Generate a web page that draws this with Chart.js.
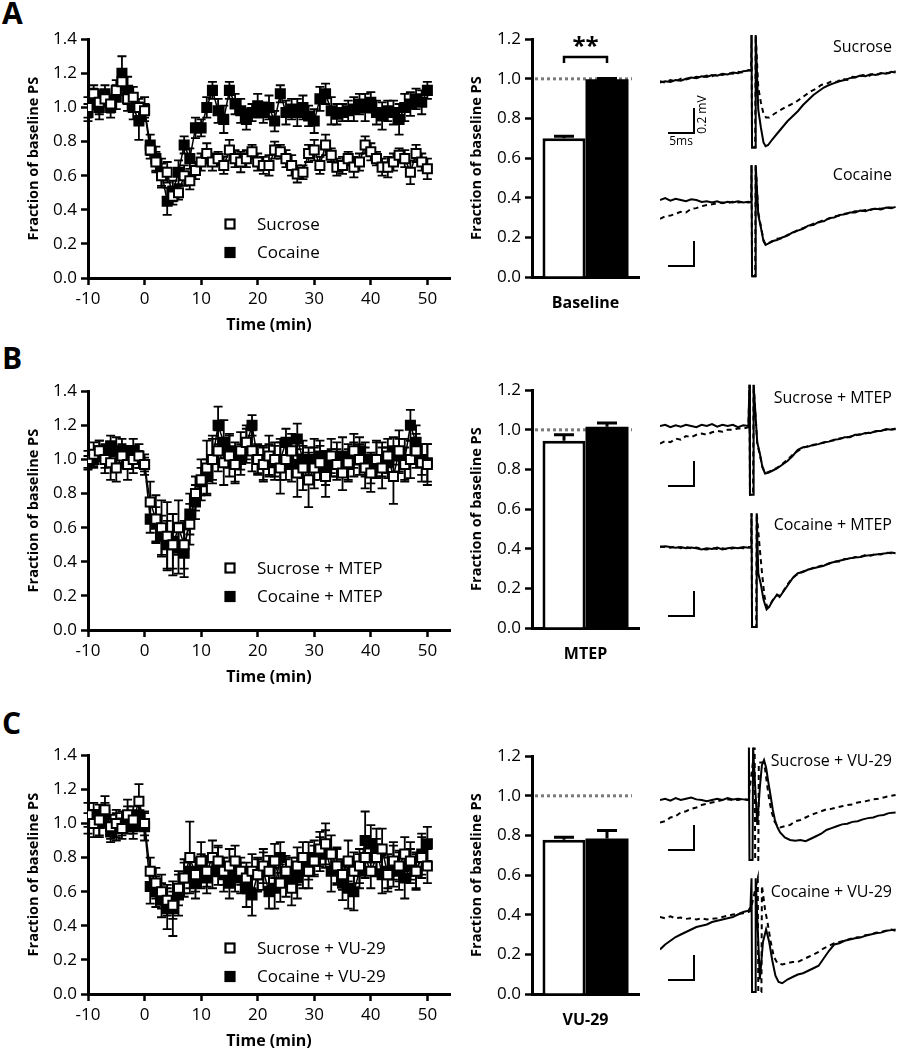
<!DOCTYPE html>
<html><head><meta charset="utf-8">
<script src="https://cdn.jsdelivr.net/npm/chart.js@4.4.0/dist/chart.umd.min.js"></script>
<style>
html,body{margin:0;padding:0;background:#fff;width:897px;height:1050px;overflow:hidden;position:relative}
.box{position:absolute}
.letter{position:absolute;font:bold 30px "Open Sans",sans-serif;color:#000;line-height:30px}
</style></head><body>
<div class="letter" style="left:2px;top:-2px">A</div>
<div class="letter" style="left:2px;top:343px">B</div>
<div class="letter" style="left:2px;top:708px">C</div>

<div class="box" style="left:0;top:25px"><canvas id="lA" width="460" height="320"></canvas></div>
<div class="box" style="left:0;top:377px"><canvas id="lB" width="460" height="320"></canvas></div>
<div class="box" style="left:0;top:741px"><canvas id="lC" width="460" height="320"></canvas></div>

<div class="box" style="left:462px;top:25px"><canvas id="bA" width="190" height="320"></canvas></div>
<div class="box" style="left:462px;top:376px"><canvas id="bB" width="190" height="320"></canvas></div>
<div class="box" style="left:462px;top:742px"><canvas id="bC" width="190" height="320"></canvas></div>

<div class="box" style="left:660px;top:20px"><canvas id="tA1" width="236" height="150"></canvas></div>
<div class="box" style="left:660px;top:140px"><canvas id="tA2" width="236" height="150"></canvas></div>
<div class="box" style="left:660px;top:366px"><canvas id="tB1" width="236" height="150"></canvas></div>
<div class="box" style="left:660px;top:487px"><canvas id="tB2" width="236" height="150"></canvas></div>
<div class="box" style="left:660px;top:740px"><canvas id="tC1" width="236" height="150"></canvas></div>
<div class="box" style="left:660px;top:857px"><canvas id="tC2" width="236" height="150"></canvas></div>

<script>
// ---------------- DATA ----------------
const time = [-10,-9,-8,-7,-6,-5,-4,-3,-2,-1,0,
  1,2,3,4,5,6,7,8,9,10, 11,12,13,14,15,16,17,18,19,20,
  21,22,23,24,25,26,27,28,29,30, 31,32,33,34,35,36,37,38,39,40,
  41,42,43,44,45,46,47,48,49,50];

const seriesLabelsA = ['Sucrose','Cocaine'];
const seriesLabelsB = ['Sucrose + MTEP','Cocaine + MTEP'];
const seriesLabelsC = ['Sucrose + VU-29','Cocaine + VU-29'];

const sucroseA = [1.00,1.08,1.03,1.05,1.02,1.10,1.15,1.05,1.06,1.00,0.98,
  0.75,0.68,0.60,0.62,0.48,0.50,0.60,0.57,0.63,0.68,
  0.73,0.68,0.70,0.66,0.75,0.70,0.68,0.70,0.74,0.68,
  0.66,0.66,0.75,0.74,0.70,0.66,0.61,0.62,0.73,0.75,
  0.66,0.78,0.72,0.65,0.66,0.70,0.65,0.68,0.78,0.74,
  0.70,0.65,0.65,0.68,0.72,0.70,0.62,0.73,0.68,0.64];
const sucroseAErr = [0.06,0.05,0.07,0.04,0.05,0.06,0.05,0.07,0.06,0.05,0.04,
  0.05,0.06,0.07,0.06,0.05,0.04,0.06,0.05,0.05,0.05,
  0.06,0.05,0.04,0.05,0.06,0.05,0.06,0.05,0.04,0.05,
  0.05,0.06,0.05,0.04,0.05,0.06,0.05,0.04,0.05,0.06,
  0.05,0.06,0.04,0.05,0.05,0.04,0.06,0.05,0.05,0.05,
  0.04,0.05,0.06,0.05,0.04,0.05,0.07,0.05,0.05,0.06];
const cocaineA = [0.97,1.05,1.00,1.08,1.00,1.06,1.20,1.10,1.00,0.92,0.99,
  0.78,0.70,0.62,0.45,0.51,0.62,0.78,0.70,0.88,0.88,
  1.00,1.10,0.98,0.93,1.10,1.02,0.98,0.93,0.97,1.01,
  0.97,1.00,0.92,1.08,0.97,0.99,0.97,1.00,0.95,0.92,
  1.05,1.08,0.98,0.96,0.97,0.98,0.99,1.02,1.00,1.03,
  0.97,0.95,0.98,0.97,0.93,1.00,1.02,1.05,1.03,1.10];
const cocaineAErr = [0.05,0.06,0.07,0.05,0.06,0.07,0.10,0.08,0.07,0.11,0.07,
  0.06,0.07,0.08,0.08,0.06,0.07,0.05,0.06,0.06,0.05,
  0.06,0.05,0.07,0.08,0.05,0.06,0.07,0.06,0.05,0.07,
  0.06,0.07,0.06,0.05,0.07,0.06,0.08,0.07,0.06,0.07,
  0.07,0.06,0.08,0.06,0.05,0.06,0.07,0.06,0.08,0.06,
  0.07,0.08,0.06,0.07,0.09,0.08,0.07,0.06,0.07,0.05];

const sucroseB = [1.00,1.03,1.05,1.00,0.98,0.95,1.02,0.97,1.00,1.02,0.97,
  0.75,0.65,0.60,0.55,0.50,0.60,0.50,0.62,0.80,0.88,
  0.95,1.00,1.05,0.98,1.02,0.97,1.05,1.10,1.05,1.00,
  0.97,1.02,1.00,0.95,1.00,1.05,0.92,0.95,0.88,0.95,
  0.98,0.90,1.02,0.97,0.92,0.98,1.05,1.00,0.95,0.92,
  1.00,0.95,1.02,0.90,1.05,0.97,1.00,1.05,0.98,0.97];
const sucroseBErr = [0.05,0.07,0.06,0.08,0.10,0.08,0.07,0.09,0.08,0.07,0.06,
  0.12,0.14,0.16,0.20,0.18,0.16,0.14,0.12,0.10,0.12,
  0.16,0.14,0.12,0.13,0.12,0.10,0.11,0.10,0.12,0.09,
  0.10,0.12,0.10,0.15,0.12,0.10,0.14,0.13,0.16,0.12,
  0.10,0.12,0.10,0.09,0.10,0.11,0.10,0.09,0.12,0.11,
  0.10,0.12,0.10,0.16,0.12,0.10,0.11,0.10,0.11,0.12];
const cocaineB = [0.98,1.00,1.05,1.02,1.08,1.05,1.05,1.02,1.05,1.00,0.97,
  0.65,0.62,0.55,0.50,0.52,0.48,0.45,0.68,0.75,0.87,
  0.90,1.00,1.20,1.10,1.05,0.98,1.00,1.08,1.20,1.00,
  0.98,1.00,0.98,1.00,1.10,0.97,1.12,1.00,0.97,1.00,
  1.02,0.95,0.98,1.00,1.02,0.97,1.00,1.05,1.00,0.95,
  1.00,1.00,0.98,1.05,1.02,1.00,1.20,1.10,1.00,0.98];
const cocaineBErr = [0.04,0.05,0.06,0.07,0.06,0.08,0.07,0.06,0.07,0.05,0.04,
  0.08,0.10,0.12,0.14,0.16,0.15,0.14,0.12,0.10,0.08,
  0.10,0.12,0.11,0.13,0.10,0.12,0.09,0.10,0.06,0.08,
  0.10,0.09,0.10,0.12,0.08,0.10,0.09,0.11,0.10,0.12,
  0.09,0.10,0.08,0.10,0.11,0.09,0.10,0.08,0.10,0.09,
  0.11,0.10,0.09,0.08,0.10,0.12,0.09,0.10,0.09,0.11];

const sucroseC = [1.05,1.00,1.02,1.08,0.98,1.00,0.97,1.05,1.02,1.13,1.00,
  0.72,0.65,0.60,0.55,0.52,0.62,0.68,0.80,0.70,0.78,
  0.72,0.80,0.78,0.72,0.75,0.78,0.72,0.68,0.72,0.70,
  0.75,0.72,0.78,0.65,0.72,0.62,0.75,0.80,0.72,0.78,
  0.85,0.88,0.82,0.75,0.70,0.78,0.72,0.75,0.80,0.72,
  0.80,0.85,0.70,0.78,0.75,0.82,0.78,0.72,0.80,0.75];
const sucroseCErr = [0.07,0.08,0.09,0.08,0.07,0.08,0.06,0.09,0.08,0.10,0.07,
  0.08,0.09,0.10,0.09,0.08,0.10,0.09,0.21,0.10,0.11,
  0.09,0.10,0.09,0.08,0.10,0.09,0.08,0.09,0.10,0.09,
  0.10,0.09,0.10,0.11,0.09,0.10,0.11,0.09,0.10,0.09,
  0.10,0.12,0.11,0.10,0.09,0.12,0.11,0.10,0.12,0.10,
  0.11,0.12,0.10,0.11,0.09,0.10,0.11,0.10,0.12,0.10];
const cocaineC = [1.00,1.05,1.00,1.05,0.95,0.98,1.00,1.02,0.98,1.05,0.98,
  0.63,0.60,0.55,0.50,0.50,0.58,0.68,0.72,0.65,0.72,
  0.68,0.72,0.75,0.70,0.65,0.70,0.68,0.62,0.58,0.70,
  0.72,0.60,0.62,0.80,0.68,0.70,0.68,0.72,0.78,0.80,
  0.82,0.85,0.72,0.75,0.65,0.62,0.60,0.72,0.90,0.88,
  0.85,0.70,0.72,0.75,0.72,0.68,0.75,0.72,0.82,0.88];
const cocaineCErr = [0.06,0.07,0.08,0.07,0.06,0.08,0.07,0.08,0.07,0.09,0.08,
  0.10,0.09,0.10,0.12,0.16,0.12,0.11,0.10,0.09,0.10,
  0.09,0.10,0.11,0.10,0.09,0.10,0.09,0.11,0.12,0.10,
  0.11,0.10,0.12,0.09,0.11,0.10,0.12,0.10,0.11,0.10,
  0.10,0.11,0.12,0.11,0.10,0.12,0.11,0.10,0.17,0.11,
  0.12,0.11,0.10,0.12,0.11,0.12,0.10,0.11,0.12,0.10];

// bar panels
const barCategories = ['Baseline','MTEP','VU-29'];
const barSucrose = [0.70, 0.945, 0.778];
const barSucroseErr = [0.01, 0.03, 0.013];
const barCocaine = [0.998, 1.015, 0.785];
const barCocaineErr = [0.004, 0.02, 0.04];
const barRefValue = 1.0;

// example traces (ms, mV relative to pre-stimulus level)
const traceLabels = ['Sucrose','Cocaine','Sucrose + MTEP','Cocaine + MTEP','Sucrose + VU-29','Cocaine + VU-29'];
const scaleBarMs = 5, scaleBarMv = 0.2;

const traceA1Solid = [[0,-0.02],[1,-0.01],[2,-0.015],[3,0.0],[4,-0.005],[5,0.01],[6,0.02],[7,0.015],[8,0.03],[9,0.025],[10,0.04],[11,0.035],[12,0.05],[13,0.045],[14,0.06],[15,0.055],[16,0.07],[17,0.075],[17.5,0.08],
 [17.6,0.36],[17.7,-0.54],[18.3,-0.54],[18.4,0.36],[18.9,-0.24],[19.4,-0.38],[19.9,-0.5],[20.3,-0.53],[20.8,-0.52],[21.5,-0.48],[22.5,-0.43],[23.5,-0.38],[24.5,-0.33],[25.5,-0.29],[26.5,-0.25],[27.5,-0.2],[28.5,-0.16],[29.5,-0.12],[30.5,-0.09],[31.5,-0.06],[32.5,-0.04],[33.5,-0.025],[34.5,-0.01],[35.5,0.0],[36.5,0.015],[37.5,0.02],[38.5,0.035],[39.5,0.03],[40.5,0.045],[41.5,0.04],[42.5,0.055],[43.5,0.05],[44.5,0.065],[45.3,0.06]];
const traceA1Dashed = [[0,-0.01],[1,-0.02],[2,0.0],[3,-0.01],[4,0.01],[5,0.005],[6,0.015],[7,0.025],[8,0.02],[9,0.035],[10,0.03],[11,0.045],[12,0.04],[13,0.055],[14,0.05],[15,0.065],[16,0.06],[17,0.08],[17.5,0.075],
 [17.6,0.36],[17.7,-0.54],[18.3,-0.54],[18.4,0.36],[18.9,-0.06],[19.4,-0.18],[19.9,-0.27],[20.4,-0.3],[21,-0.3],[22,-0.27],[23,-0.245],[24,-0.22],[25,-0.2],[26,-0.18],[27,-0.15],[28,-0.12],[29,-0.09],[30,-0.07],[31,-0.04],[32,-0.03],[33,-0.01],[34,-0.015],[35,0.01],[36,0.0],[37,0.025],[38,0.02],[39,0.04],[40,0.03],[41,0.05],[42,0.045],[43,0.06],[44,0.055],[45.3,0.07]];

const traceA2Solid = [[0,0.0],[1,0.015],[2,-0.005],[3,0.01],[4,0.0],[5,-0.01],[6,0.005],[7,0.0],[8,-0.015],[9,-0.01],[10,-0.02],[11,-0.01],[12,-0.025],[13,-0.015],[14,-0.02],[15,-0.01],[16,-0.02],[17,-0.015],[17.5,-0.02],
 [17.6,0.28],[17.7,-0.61],[18.3,-0.61],[18.4,0.28],[18.9,-0.12],[19.4,-0.22],[19.9,-0.33],[20.3,-0.36],[20.8,-0.35],[21.5,-0.33],[22.5,-0.32],[23.5,-0.3],[24.5,-0.285],[25.5,-0.26],[26.5,-0.245],[27.5,-0.23],[28.5,-0.205],[29.5,-0.2],[30.5,-0.175],[31.5,-0.17],[32.5,-0.145],[33.5,-0.14],[34.5,-0.12],[35.5,-0.115],[36.5,-0.1],[37.5,-0.1],[38.5,-0.085],[39.5,-0.09],[40.5,-0.075],[41.5,-0.07],[42.5,-0.075],[43.5,-0.06],[44.5,-0.065],[45.3,-0.055]];
const traceA2Dashed = [[0,-0.15],[1,-0.13],[2,-0.125],[3,-0.11],[4,-0.095],[5,-0.1],[6,-0.07],[7,-0.065],[8,-0.05],[9,-0.04],[10,-0.035],[11,-0.025],[12,-0.02],[13,-0.025],[14,-0.015],[15,-0.02],[16,-0.015],[17,-0.02],[17.5,-0.015],
 [17.6,0.28],[17.7,-0.61],[18.3,-0.61],[18.4,0.28],[18.9,-0.1],[19.4,-0.21],[19.9,-0.32],[20.3,-0.355],[20.8,-0.345],[21.5,-0.335],[22.5,-0.31],[23.5,-0.305],[24.5,-0.28],[25.5,-0.265],[26.5,-0.24],[27.5,-0.225],[28.5,-0.21],[29.5,-0.19],[30.5,-0.18],[31.5,-0.16],[32.5,-0.15],[33.5,-0.13],[34.5,-0.125],[35.5,-0.11],[36.5,-0.105],[37.5,-0.09],[38.5,-0.09],[39.5,-0.08],[40.5,-0.08],[41.5,-0.065],[42.5,-0.07],[43.5,-0.06],[44.5,-0.06],[45.3,-0.06]];

const traceB1Solid = [[0,0.0],[1,0.01],[2,-0.01],[3,0.005],[4,-0.005],[5,0.01],[6,0.0],[7,-0.01],[8,0.01],[9,0.0],[10,0.015],[11,-0.005],[12,0.01],[13,0.0],[14,0.01],[15,-0.01],[16,0.005],[17,0.0],
 [17.2,0.33],[17.3,-0.55],[17.9,-0.55],[18.0,0.33],[18.7,-0.13],[19.2,-0.22],[19.7,-0.33],[20.2,-0.38],[20.8,-0.375],[21.5,-0.36],[22.5,-0.34],[23.5,-0.31],[24.5,-0.28],[25.5,-0.24],[26.5,-0.19],[27.5,-0.17],[28.5,-0.165],[29.5,-0.15],[30.5,-0.145],[31.5,-0.13],[32.5,-0.125],[33.5,-0.11],[34.5,-0.105],[35.5,-0.09],[36.5,-0.09],[37.5,-0.07],[38.5,-0.07],[39.5,-0.055],[40.5,-0.055],[41.5,-0.04],[42.5,-0.04],[43.5,-0.025],[44.5,-0.03],[45.3,-0.02]];
const traceB1Dashed = [[0,-0.14],[1,-0.12],[2,-0.13],[3,-0.1],[4,-0.11],[5,-0.08],[6,-0.09],[7,-0.07],[8,-0.06],[9,-0.07],[10,-0.05],[11,-0.04],[12,-0.045],[13,-0.03],[14,-0.03],[15,-0.02],[16,-0.02],[17,-0.01],
 [17.2,0.33],[17.3,-0.55],[17.9,-0.55],[18.0,0.33],[18.7,-0.14],[19.2,-0.23],[19.7,-0.33],[20.2,-0.37],[20.8,-0.37],[21.5,-0.355],[22.5,-0.335],[23.5,-0.305],[24.5,-0.27],[25.5,-0.23],[26.5,-0.2],[27.5,-0.175],[28.5,-0.16],[29.5,-0.155],[30.5,-0.14],[31.5,-0.135],[32.5,-0.12],[33.5,-0.115],[34.5,-0.1],[35.5,-0.095],[36.5,-0.085],[37.5,-0.075],[38.5,-0.065],[39.5,-0.06],[40.5,-0.05],[41.5,-0.045],[42.5,-0.035],[43.5,-0.03],[44.5,-0.025],[45.3,-0.025]];

const traceB2Solid = [[0,0.0],[1,0.005],[2,0.0],[3,-0.005],[4,0.0],[5,-0.01],[6,-0.005],[7,-0.01],[8,-0.02],[9,-0.01],[10,-0.015],[11,-0.005],[12,-0.02],[13,-0.01],[14,-0.005],[15,-0.01],[16,0.0],[17,-0.005],[17.5,0.0],
 [17.6,0.27],[17.7,-0.64],[18.5,-0.64],[18.6,0.27],[18.9,-0.21],[19.4,-0.3],[19.9,-0.42],[20.5,-0.5],[21.0,-0.48],[21.5,-0.44],[22.0,-0.41],[22.5,-0.38],[23.0,-0.4],[23.5,-0.37],[24.5,-0.31],[25.5,-0.25],[26.5,-0.21],[27.5,-0.2],[28.5,-0.18],[29.5,-0.17],[30.5,-0.16],[31.5,-0.15],[32.5,-0.13],[33.5,-0.12],[34.5,-0.11],[35.5,-0.1],[36.5,-0.09],[37.5,-0.085],[38.5,-0.08],[39.5,-0.07],[40.5,-0.065],[41.5,-0.06],[42.5,-0.055],[43.5,-0.05],[44.5,-0.045],[45.3,-0.05]];
const traceB2Dashed = [[0,0.005],[1,0.0],[2,-0.005],[3,0.005],[4,-0.01],[5,0.0],[6,-0.01],[7,-0.005],[8,-0.015],[9,-0.02],[10,-0.01],[11,-0.015],[12,-0.01],[13,-0.02],[14,-0.01],[15,-0.005],[16,-0.01],[17,0.0],[17.5,-0.005],
 [17.6,0.27],[17.7,-0.64],[18.5,-0.64],[18.6,0.27],[19.2,-0.02],[19.6,-0.2],[20.1,-0.4],[20.6,-0.48],[21.1,-0.47],[21.6,-0.43],[22.1,-0.4],[22.6,-0.385],[23.1,-0.39],[23.6,-0.36],[24.5,-0.3],[25.5,-0.245],[26.5,-0.215],[27.5,-0.195],[28.5,-0.185],[29.5,-0.165],[30.5,-0.155],[31.5,-0.145],[32.5,-0.135],[33.5,-0.115],[34.5,-0.115],[35.5,-0.095],[36.5,-0.095],[37.5,-0.08],[38.5,-0.08],[39.5,-0.065],[40.5,-0.07],[41.5,-0.055],[42.5,-0.06],[43.5,-0.045],[44.5,-0.05],[45.3,-0.045]];

const traceC1Solid = [[0,0.0],[1,0.01],[2,-0.005],[3,0.015],[4,0.0],[5,0.01],[6,0.02],[7,0.005],[8,0.0],[9,-0.01],[10,0.0],[11,0.01],[12,0.0],[13,0.015],[14,0.005],[15,0.01],[16,0.005],[17,0.0],
 [17.1,0.42],[17.2,-0.48],[17.8,-0.48],[17.9,0.42],[18.7,-0.2],[19.2,0.1],[19.6,0.28],[20.0,0.32],[20.4,0.26],[20.8,0.15],[21.2,0.05],[21.7,-0.08],[22.1,-0.16],[22.6,-0.22],[23.1,-0.26],[24,-0.3],[25,-0.32],[26,-0.325],[27,-0.32],[28,-0.33],[29,-0.31],[30,-0.29],[31,-0.27],[32,-0.24],[33,-0.225],[34,-0.21],[35,-0.195],[36,-0.19],[37,-0.175],[38,-0.17],[39,-0.155],[40,-0.145],[41,-0.14],[42,-0.125],[43,-0.12],[44,-0.105],[45.3,-0.1]];
const traceC1Dashed = [[0,-0.18],[1,-0.17],[2,-0.14],[3,-0.13],[4,-0.1],[5,-0.09],[6,-0.07],[7,-0.06],[8,-0.04],[9,-0.03],[10,-0.02],[11,-0.01],[12,0.0],[13,0.005],[14,0.0],[15,0.0],[16,0.01],[17,0.0],
 [18.2,0.42],[18.3,-0.48],[18.9,-0.48],[19.0,0.3],[19.8,0.3],[20.2,0.25],[20.6,0.12],[21.0,0.0],[21.5,-0.1],[22,-0.17],[22.6,-0.21],[23.1,-0.22],[24,-0.21],[25,-0.2],[26,-0.17],[27,-0.16],[28,-0.14],[29,-0.12],[30,-0.105],[31,-0.09],[32,-0.075],[33,-0.07],[34,-0.06],[35,-0.05],[36,-0.04],[37,-0.035],[38,-0.02],[39,-0.015],[40,-0.005],[41,0.005],[42,0.01],[43,0.02],[44,0.03],[45.3,0.04]];

const traceC2Solid = [[0,-0.26],[1,-0.22],[2,-0.19],[3,-0.16],[4,-0.14],[5,-0.12],[6,-0.1],[7,-0.08],[8,-0.07],[9,-0.06],[10,-0.04],[11,-0.03],[12,-0.02],[13,-0.01],[14,0.0],[15,0.02],[16,0.04],[17,0.05],[17.4,0.08],
 [17.6,0.31],[17.7,-0.6],[18.3,-0.6],[18.4,0.31],[19.2,-0.5],[19.8,-0.2],[20.4,-0.1],[21,-0.2],[21.6,-0.35],[22.2,-0.47],[22.8,-0.52],[23.5,-0.53],[24.5,-0.5],[25.5,-0.48],[26.5,-0.46],[27.5,-0.45],[28.5,-0.43],[29.5,-0.41],[30.5,-0.39],[31.5,-0.33],[32.5,-0.27],[33.5,-0.22],[34.5,-0.21],[35.5,-0.19],[36.5,-0.18],[37.5,-0.17],[38.5,-0.165],[39.5,-0.15],[40.5,-0.14],[41.5,-0.13],[42.5,-0.125],[43.5,-0.11],[44.5,-0.105],[45.3,-0.1]];
const traceC2Dashed = [[0,0.0],[1,-0.01],[2,0.005],[3,-0.01],[4,-0.005],[5,-0.015],[6,-0.01],[7,-0.02],[8,-0.01],[9,-0.02],[10,-0.015],[11,-0.01],[12,0.0],[13,0.01],[14,0.02],[15,0.025],[16,0.03],[17,0.04],[17.4,0.05],
 [18.8,0.31],[18.9,-0.6],[19.5,-0.6],[19.6,0.25],[20.2,0.06],[20.7,-0.05],[21.3,-0.2],[21.9,-0.32],[22.6,-0.37],[23.5,-0.38],[24.5,-0.37],[25.5,-0.36],[26.5,-0.36],[27.5,-0.34],[28.5,-0.32],[29.5,-0.3],[30.5,-0.28],[31.5,-0.25],[32.5,-0.23],[33.5,-0.21],[34.5,-0.2],[35.5,-0.19],[36.5,-0.175],[37.5,-0.165],[38.5,-0.16],[39.5,-0.145],[40.5,-0.14],[41.5,-0.125],[42.5,-0.12],[43.5,-0.11],[44.5,-0.1],[45.3,-0.11]];

// ---------------- RENDERING ----------------
const FONT = '"Open Sans", sans-serif';
Chart.defaults.font.family = FONT;
Chart.defaults.color = '#000';

const errBars = {
  id: 'errBars',
  beforeDatasetsDraw(chart, args, o) {
    const {ctx, scales: {x, y}} = chart;
    ctx.save(); ctx.strokeStyle = '#000'; ctx.lineWidth = o.lineWidth;
    chart.data.datasets.forEach(ds => {
      ds.data.forEach((p, j) => {
        const e = ds.errors[j];
        const px = x.getPixelForValue(p.x);
        const yt = y.getPixelForValue(p.y + e), yb = y.getPixelForValue(p.y - e);
        ctx.beginPath();
        ctx.moveTo(px, yt); ctx.lineTo(px, yb);
        ctx.moveTo(px - o.cap, yt); ctx.lineTo(px + o.cap, yt);
        ctx.moveTo(px - o.cap, yb); ctx.lineTo(px + o.cap, yb);
        ctx.stroke();
      });
    });
    ctx.restore();
  }
};
const squareLegend = {
  id: 'squareLegend',
  afterDatasetsDraw(chart, args, o) {
    const ctx = chart.ctx;
    chart.data.datasets.forEach((ds, i) => {
      const y = o.y + i * o.gap;
      ctx.save();
      ctx.lineWidth = 2.2; ctx.strokeStyle = '#000'; ctx.fillStyle = ds.pointBackgroundColor;
      ctx.fillRect(o.x - 4.5, y - 4.5, 9, 9); ctx.strokeRect(o.x - 4.5, y - 4.5, 9, 9);
      ctx.fillStyle = '#000'; ctx.font = '17px ' + FONT; ctx.textBaseline = 'middle'; ctx.textAlign = 'left';
      ctx.fillText(ds.label, o.textX, y + 1);
      ctx.restore();
    });
  }
};

function axisCommon() {
  return {
    grid: {drawOnChartArea: false, drawTicks: true, tickLength: 7, tickWidth: 2.5, tickColor: '#000'},
    border: {display: true, color: '#000', width: 3}
  };
}

function lineChart(id, suc, sucErr, coc, cocErr, labels, legendY) {
  const mk = (vals) => time.map((t, i) => ({x: t, y: vals[i]}));
  const base = {borderColor: '#000', borderWidth: 1.5, pointStyle: 'rect', pointRadius: 6.4,
    pointBorderWidth: 2, pointBorderColor: '#000', tension: 0, fill: false};
  new Chart(document.getElementById(id), {
    type: 'line',
    data: {datasets: [
      Object.assign({label: labels[0], data: mk(suc), errors: sucErr, pointBackgroundColor: '#fff'}, base),
      Object.assign({label: labels[1], data: mk(coc), errors: cocErr, pointBackgroundColor: '#000'}, base)
    ]},
    options: {
      responsive: false, animation: false, events: [], devicePixelRatio: 1,
      layout: {padding: {left: 0, top: 10, right: 10, bottom: 0}},
      plugins: {legend: {display: false}, tooltip: {enabled: false},
        errBars: {cap: 4.5, lineWidth: 1.8},
        squareLegend: {x: 230, y: legendY, gap: 28.5, textX: 257}},
      scales: {
        x: Object.assign(axisCommon(), {
          type: 'linear', min: -10, max: 54,
          ticks: {stepSize: 10, includeBounds: false, font: {size: 17}, color: '#000', padding: 4, maxRotation: 0, autoSkip: false},
          title: {display: true, text: 'Time (min)', font: {size: 16, weight: 'bold'}, color: '#000', padding: {top: 0, bottom: 10}},
          afterFit: s => { s.height = 67; }
        }),
        y: Object.assign(axisCommon(), {
          min: 0, max: 1.4,
          ticks: {stepSize: 0.2, font: {size: 17}, color: '#000', padding: 4, callback: v => Number(v).toFixed(1)},
          title: {display: true, text: 'Fraction of baseline PS', font: {size: 14.5, weight: 'bold'}, color: '#000', padding: {top: 25, bottom: 0}},
          afterFit: s => { s.width = 88; }
        })
      }
    },
    plugins: [errBars, squareLegend]
  });
}

const barExtras = {
  id: 'barExtras',
  beforeDatasetsDraw(chart, a, o) {
    const {ctx, chartArea, scales: {y}} = chart;
    const yy = y.getPixelForValue(o.refValue);
    ctx.save(); ctx.strokeStyle = '#7a7a7a'; ctx.lineWidth = 3; ctx.setLineDash([3, 3]);
    ctx.beginPath(); ctx.moveTo(chartArea.left + 3, yy); ctx.lineTo(chartArea.right - 7, yy); ctx.stroke();
    ctx.restore();
  },
  afterDatasetsDraw(chart, a, o) {
    const {ctx, scales: {y}} = chart;
    ctx.save(); ctx.strokeStyle = '#000'; ctx.lineWidth = 3;
    const xs = [];
    chart.data.datasets.forEach((ds, i) => {
      const el = chart.getDatasetMeta(i).data[0];
      xs.push(el.x);
      const v = ds.data[0], e = ds.errors[0];
      const y0 = y.getPixelForValue(v), y1 = y.getPixelForValue(v + e);
      ctx.beginPath(); ctx.moveTo(el.x, y0); ctx.lineTo(el.x, y1);
      ctx.moveTo(el.x - o.cap, y1); ctx.lineTo(el.x + o.cap, y1); ctx.stroke();
    });
    if (o.sig) {
      const yb = y.getPixelForValue(o.sig.level), yt = y.getPixelForValue(o.sig.level - o.sig.drop);
      ctx.lineWidth = 2.5;
      ctx.beginPath(); ctx.moveTo(xs[0], yt); ctx.lineTo(xs[0], yb); ctx.lineTo(xs[1], yb); ctx.lineTo(xs[1], yt); ctx.stroke();
      ctx.fillStyle = '#000'; ctx.font = 'bold 24px ' + FONT; ctx.textAlign = 'center'; ctx.textBaseline = 'middle';
      ctx.fillText(o.sig.text, (xs[0] + xs[1]) / 2, y.getPixelForValue(o.sig.textLevel));
    }
    ctx.restore();
  }
};

function barChart(id, k, sig) {
  const common = {barPercentage: 1, categoryPercentage: 0.804, borderColor: '#000'};
  new Chart(document.getElementById(id), {
    type: 'bar',
    data: {labels: [barCategories[k]], datasets: [
      Object.assign({label: 'Sucrose', data: [barSucrose[k]], errors: [barSucroseErr[k]], backgroundColor: '#fff', borderWidth: 3, borderSkipped: 'bottom'}, common),
      Object.assign({label: 'Cocaine', data: [barCocaine[k]], errors: [barCocaineErr[k]], backgroundColor: '#000', borderWidth: 0}, common)
    ]},
    options: {
      responsive: false, animation: false, events: [], devicePixelRatio: 1,
      layout: {padding: {left: 0, top: 10, right: 13, bottom: 0}},
      plugins: {legend: {display: false}, tooltip: {enabled: false},
        barExtras: {refValue: barRefValue, cap: 10, sig: sig}},
      scales: {
        x: {
          grid: {drawOnChartArea: false, drawTicks: false},
          border: {display: true, color: '#000', width: 3},
          ticks: {font: {size: 16, weight: 'bold'}, color: '#000', padding: 17},
          afterFit: s => { s.height = 68; }
        },
        y: Object.assign(axisCommon(), {
          min: 0, max: 1.2,
          ticks: {stepSize: 0.2, font: {size: 17}, color: '#000', padding: 4, callback: v => Number(v).toFixed(1)},
          title: {display: true, text: 'Fraction of baseline PS', font: {size: 14.5, weight: 'bold'}, color: '#000', padding: {top: 6, bottom: 0}},
          afterFit: s => { s.width = 70; }
        })
      }
    },
    plugins: [barExtras]
  });
}

const traceExtras = {
  id: 'traceExtras',
  afterDatasetsDraw(chart, a, o) {
    const {ctx, scales: {x, y}} = chart;
    ctx.save();
    const cx = x.getPixelForValue(o.barT), cy = y.getPixelForValue(o.barV);
    const lx = x.getPixelForValue(o.barT - scaleBarMs), ty = y.getPixelForValue(o.barV + scaleBarMv);
    ctx.strokeStyle = '#000'; ctx.lineWidth = 2;
    ctx.beginPath(); ctx.moveTo(lx, cy); ctx.lineTo(cx, cy); ctx.lineTo(cx, ty); ctx.stroke();
    ctx.fillStyle = '#000'; ctx.font = '16px ' + FONT; ctx.textAlign = 'right'; ctx.textBaseline = 'middle';
    ctx.fillText(o.label, x.getPixelForValue(44.6), y.getPixelForValue(o.labelV));
    if (o.units) {
      ctx.font = '12px ' + FONT; ctx.textAlign = 'center';
      ctx.fillText(scaleBarMs + 'ms', (lx + cx) / 2, cy + 9);
      ctx.save(); ctx.translate(cx + 9, (cy + ty) / 2 - 6); ctx.rotate(-Math.PI / 2);
      ctx.fillText(scaleBarMv + ' mV', 0, 0); ctx.restore();
    }
    ctx.restore();
  }
};

function traceChart(id, solid, dashed, labelIdx, labelV, barV, units) {
  const toXY = arr => arr.map(p => ({x: p[0], y: p[1]}));
  new Chart(document.getElementById(id), {
    type: 'scatter',
    data: {datasets: [
      {data: toXY(dashed), showLine: true, pointRadius: 0, borderColor: '#000', borderWidth: 2, borderDash: [5, 4], clip: false},
      {data: toXY(solid), showLine: true, pointRadius: 0, borderColor: '#000', borderWidth: 2, clip: false}
    ]},
    options: {
      responsive: false, animation: false, events: [], devicePixelRatio: 1,
      layout: {padding: 0},
      plugins: {legend: {display: false}, tooltip: {enabled: false},
        traceExtras: {label: traceLabels[labelIdx], labelV: labelV, barT: 6.54, barV: barV, units: units}},
      scales: {x: {type: 'linear', min: 0, max: 45.38, display: false},
               y: {type: 'linear', min: -0.72, max: 0.48, display: false}}
    },
    plugins: [traceExtras]
  });
}

lineChart('lA', sucroseA, sucroseAErr, cocaineA, cocaineAErr, seriesLabelsA, 199);
lineChart('lB', sucroseB, sucroseBErr, cocaineB, cocaineBErr, seriesLabelsB, 191);
lineChart('lC', sucroseC, sucroseCErr, cocaineC, cocaineCErr, seriesLabelsC, 207);

barChart('bA', 0, {level: 1.11, drop: 0.03, textLevel: 1.16, text: '**'});
barChart('bB', 1, null);
barChart('bC', 2, null);

traceChart('tA1', traceA1Solid, traceA1Dashed, 0, 0.264, -0.424, true);
traceChart('tA2', traceA2Solid, traceA2Dashed, 1, 0.2, -0.528, false);
traceChart('tB1', traceB1Solid, traceB1Dashed, 2, 0.224, -0.48, false);
traceChart('tB2', traceB2Solid, traceB2Dashed, 3, 0.176, -0.552, false);
traceChart('tC1', traceC1Solid, traceC1Dashed, 4, 0.312, -0.4, false);
traceChart('tC2', traceC2Solid, traceC2Dashed, 5, 0.2, -0.504, false);
</script>
</body></html>
